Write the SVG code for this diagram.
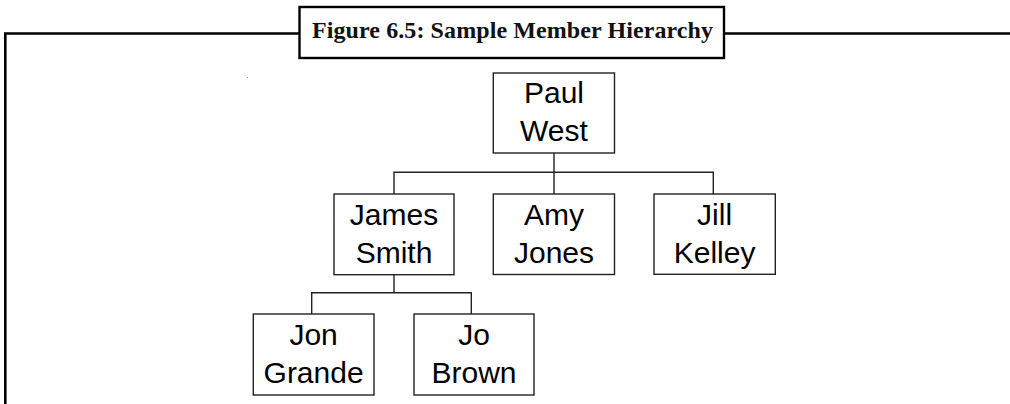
<svg xmlns="http://www.w3.org/2000/svg" width="1010" height="404" viewBox="0 0 1010 404">
<style>
.frame{fill:none;stroke:#000;stroke-width:2.6}
.tbox{fill:#fff;stroke:#000;stroke-width:2.4}
.title{font-family:"Liberation Serif",serif;font-weight:bold;font-size:24px;fill:#111}
.box{fill:#fff;stroke:#222;stroke-width:1.4}
.lbl{font-family:"Liberation Sans",Arial,sans-serif;font-size:30px;fill:#000;text-anchor:middle}
.conn{fill:none;stroke:#222;stroke-width:1.4}
</style>
<rect width="1010" height="404" fill="#fff"/>
<g id="frame">
<path class="frame" d="M5.3 404 V33.5 H1010"/>
<rect x="247" y="77" width="1" height="1" fill="#999"/>
</g>
<g id="title">
<rect class="tbox" x="299.5" y="7" width="424.5" height="51"/>
<text class="title" x="312" y="38" textLength="401" lengthAdjust="spacing">Figure 6.5: Sample Member Hierarchy</text>
</g>
<g id="connectors">
<path class="conn" d="M554 153 V172.3"/>
<path class="conn" d="M394 194 V172.3 H713.3 V194"/>
<path class="conn" d="M554 172.3 V194"/>
<path class="conn" d="M394 274.7 V292.7"/>
<path class="conn" d="M311.7 314 V292.7 H471.3 V314"/>
</g>
<g id="paul">
<rect class="box" x="493.3" y="73" width="121.2" height="80"/>
<text class="lbl" x="554" y="102.5">Paul</text>
<text class="lbl" x="554" y="141">West</text>
</g>
<g id="james">
<rect class="box" x="334" y="194" width="120" height="80.7"/>
<text class="lbl" x="394" y="225">James</text>
<text class="lbl" x="394" y="263">Smith</text>
</g>
<g id="amy">
<rect class="box" x="493.3" y="194" width="121.2" height="80.5"/>
<text class="lbl" x="554" y="225">Amy</text>
<text class="lbl" x="554" y="263">Jones</text>
</g>
<g id="jill">
<rect class="box" x="654" y="194" width="121.3" height="80.3"/>
<text class="lbl" x="714.6" y="225">Jill</text>
<text class="lbl" x="714.6" y="263">Kelley</text>
</g>
<g id="jon">
<rect class="box" x="253.3" y="314" width="120.7" height="81"/>
<text class="lbl" x="313.6" y="345">Jon</text>
<text class="lbl" x="313.6" y="383">Grande</text>
</g>
<g id="jo">
<rect class="box" x="414" y="314" width="120" height="81"/>
<text class="lbl" x="474" y="345">Jo</text>
<text class="lbl" x="474" y="383">Brown</text>
</g>
</svg>
